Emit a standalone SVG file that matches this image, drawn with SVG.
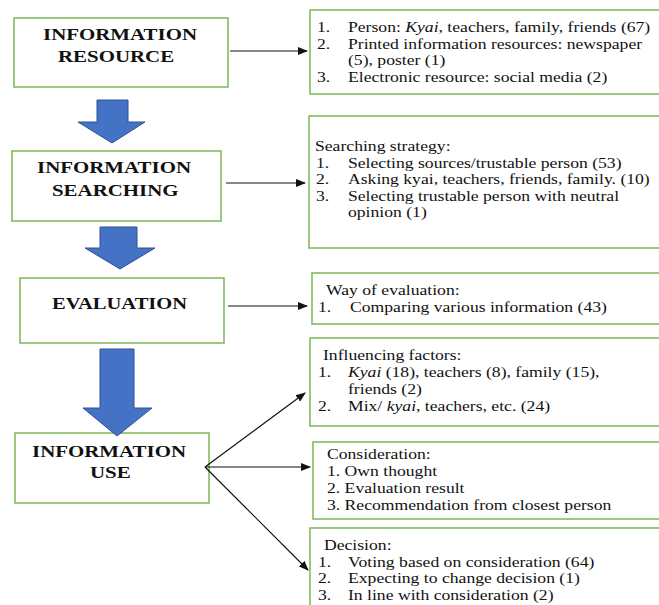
<svg xmlns="http://www.w3.org/2000/svg" width="659" height="605" viewBox="0 0 659 605">
<style>
.box{fill:#fff;stroke:#82BC5E;stroke-width:1.6}
.big{fill:#4472C4;stroke:#2F528F;stroke-width:1}
.hd{font-family:'Liberation Serif','Times New Roman',serif;font-weight:bold;font-size:17px;fill:#111}
.tx{font-family:'Liberation Serif','Times New Roman',serif;font-size:14px;fill:#111}
.ln{stroke:#111;stroke-width:1.2;fill:none;marker-end:url(#ah)}
</style>
<defs>
<marker id="ah" markerWidth="10" markerHeight="8" refX="9" refY="4" orient="auto" markerUnits="userSpaceOnUse">
<path d="M0,0 L10,4 L0,8 Z" fill="#111"/>
</marker>
</defs>
<rect width="659" height="605" fill="#fff"/>

<g id="resource">
<rect class="box" x="14" y="18" width="214" height="69"/>
<text class="hd" transform="translate(43,40) scale(1.23,1)">INFORMATION</text>
<text class="hd" transform="translate(58,62) scale(1.23,1)">RESOURCE</text>
</g>
<g id="searching">
<rect class="box" x="12" y="151" width="209" height="70"/>
<text class="hd" transform="translate(37,173) scale(1.23,1)">INFORMATION</text>
<text class="hd" transform="translate(52,196) scale(1.23,1)">SEARCHING</text>
</g>
<g id="evaluation">
<rect class="box" x="20" y="278" width="204" height="65"/>
<text class="hd" transform="translate(52,309) scale(1.21,1)">EVALUATION</text>
</g>
<g id="use">
<rect class="box" x="15" y="433" width="194" height="70"/>
<text class="hd" transform="translate(32,457) scale(1.23,1)">INFORMATION</text>
<text class="hd" transform="translate(90,478) scale(1.23,1)">USE</text>
</g>

<g id="flow-arrows">
<path class="big" d="M97,100 H128 V122 H145 L112,143 L78,122 H97 Z"/>
<path class="big" d="M100,227 H137 V248 H155 L120,269 L85,248 H100 Z"/>
<path class="big" d="M100,349 H134 V408 H152 L117,436 L83,408 H100 Z"/>
</g>

<g id="resource-detail">
<rect class="box" x="310" y="10" width="355" height="84"/>
<text class="tx" transform="translate(317,32) scale(1.26,1)">1.</text>
<text class="tx" transform="translate(348,32) scale(1.26,1)">Person: <tspan font-style="italic">Kyai</tspan>, teachers, family, friends (67)</text>
<text class="tx" transform="translate(317,49) scale(1.26,1)">2.</text>
<text class="tx" transform="translate(348,49) scale(1.26,1)">Printed information resources: newspaper</text>
<text class="tx" transform="translate(348,65) scale(1.26,1)">(5), poster (1)</text>
<text class="tx" transform="translate(317,82) scale(1.26,1)">3.</text>
<text class="tx" transform="translate(348,82) scale(1.26,1)">Electronic resource: social media (2)</text>
</g>

<g id="searching-detail">
<rect class="box" x="309" y="116" width="356" height="132"/>
<text class="tx" transform="translate(315,151) scale(1.26,1)">Searching strategy:</text>
<text class="tx" transform="translate(316,168) scale(1.26,1)">1.</text>
<text class="tx" transform="translate(348,168) scale(1.26,1)">Selecting sources/trustable person (53)</text>
<text class="tx" transform="translate(316,184) scale(1.26,1)">2.</text>
<text class="tx" transform="translate(348,184) scale(1.26,1)">Asking kyai, teachers, friends, family. (10)</text>
<text class="tx" transform="translate(316,201) scale(1.26,1)">3.</text>
<text class="tx" transform="translate(348,201) scale(1.26,1)">Selecting trustable person with neutral</text>
<text class="tx" transform="translate(348,217) scale(1.26,1)">opinion (1)</text>
</g>

<g id="evaluation-detail">
<rect class="box" x="312" y="273" width="353" height="51"/>
<text class="tx" transform="translate(326,295) scale(1.26,1)">Way of evaluation:</text>
<text class="tx" transform="translate(318,312) scale(1.26,1)">1.</text>
<text class="tx" transform="translate(350,312) scale(1.26,1)">Comparing various information (43)</text>
</g>

<g id="influencing-detail">
<rect class="box" x="310" y="338" width="355" height="88"/>
<text class="tx" transform="translate(323,360) scale(1.26,1)">Influencing factors:</text>
<text class="tx" transform="translate(318,377) scale(1.26,1)">1.</text>
<text class="tx" transform="translate(348,377) scale(1.26,1)"><tspan font-style="italic">Kyai</tspan> (18), teachers (8), family (15),</text>
<text class="tx" transform="translate(348,394) scale(1.26,1)">friends (2)</text>
<text class="tx" transform="translate(318,411) scale(1.26,1)">2.</text>
<text class="tx" transform="translate(348,411) scale(1.26,1)">Mix/ <tspan font-style="italic">kyai</tspan>, teachers, etc. (24)</text>
</g>

<g id="consideration-detail">
<rect class="box" x="313" y="442" width="352" height="77"/>
<text class="tx" transform="translate(327,459) scale(1.26,1)">Consideration:</text>
<text class="tx" transform="translate(327,476) scale(1.26,1)">1. Own thought</text>
<text class="tx" transform="translate(327,493) scale(1.26,1)">2. Evaluation result</text>
<text class="tx" transform="translate(327,510) scale(1.26,1)">3. Recommendation from closest person</text>
</g>

<g id="decision-detail">
<rect class="box" x="310" y="528" width="355" height="85"/>
<text class="tx" transform="translate(324,550) scale(1.26,1)">Decision:</text>
<text class="tx" transform="translate(318,567) scale(1.26,1)">1.</text>
<text class="tx" transform="translate(348,567) scale(1.26,1)">Voting based on consideration (64)</text>
<text class="tx" transform="translate(318,583) scale(1.26,1)">2.</text>
<text class="tx" transform="translate(348,583) scale(1.26,1)">Expecting to change decision (1)</text>
<text class="tx" transform="translate(318,600) scale(1.26,1)">3.</text>
<text class="tx" transform="translate(348,600) scale(1.26,1)">In line with consideration (2)</text>
</g>

<g id="connectors">
<line class="ln" x1="230" y1="51" x2="307" y2="51"/>
<line class="ln" x1="226" y1="183" x2="305" y2="183"/>
<line class="ln" x1="228" y1="306" x2="307" y2="306"/>
<line class="ln" x1="205" y1="467" x2="305" y2="393"/>
<line class="ln" x1="205" y1="467" x2="310" y2="467"/>
<line class="ln" x1="205" y1="467" x2="308" y2="570"/>
</g>
</svg>
